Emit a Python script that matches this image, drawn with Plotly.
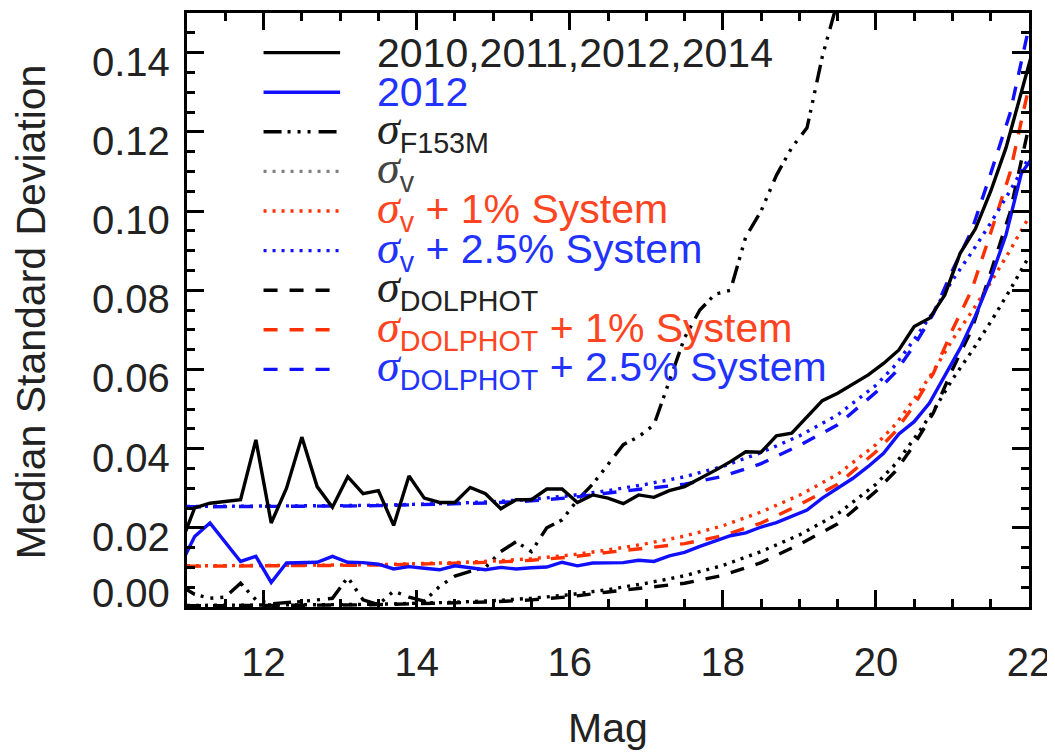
import plotly.graph_objects as go

# ---------------- data ----------------
MAG_OBS = [round(10.9 + 0.2 * i, 1) for i in range(57)]
ALL_YEARS = [0.0150, 0.0250, 0.0262, 0.0266, 0.0271, 0.0422,
             0.0212, 0.0300, 0.0429, 0.0304, 0.0252,
             0.0329, 0.0286, 0.0294, 0.0206, 0.0331,
             0.0275, 0.0264, 0.0264, 0.0302, 0.0286,
             0.0248, 0.0271, 0.0271, 0.0298, 0.0298,
             0.0264, 0.0283, 0.0275, 0.0261, 0.0283,
             0.0277, 0.0294, 0.0304, 0.0324, 0.0345,
             0.0367, 0.0392, 0.0391, 0.0432, 0.0439,
             0.0481, 0.0521, 0.0540, 0.0563, 0.0586,
             0.0615, 0.0649, 0.0708, 0.0729, 0.0788,
             0.0893, 0.0955, 0.1050, 0.1160, 0.1300,
             0.1440]
YEAR_2012 = [0.0100, 0.0178, 0.0212, 0.0165, 0.0115, 0.0128,
             0.0062, 0.0111, 0.0112, 0.0113, 0.0128,
             0.0113, 0.0112, 0.0108, 0.0096, 0.0102,
             0.0098, 0.0094, 0.0104, 0.0100, 0.0094,
             0.0100, 0.0096, 0.0099, 0.0101, 0.0113,
             0.0104, 0.0111, 0.0111, 0.0112, 0.0118,
             0.0115, 0.0129, 0.0138, 0.0153, 0.0166,
             0.0180, 0.0187, 0.0202, 0.0213, 0.0229,
             0.0245, 0.0275, 0.0300, 0.0325, 0.0355,
             0.0388, 0.0437, 0.0468, 0.0515, 0.0582,
             0.0653, 0.0735, 0.0830, 0.0940, 0.1095,
             0.1150]

MAG_F153M = [round(10.9 + 0.2 * i, 1) for i in range(44)]
SIG_F153M = [0.0055, 0.0032, 0.0022, 0.0025, 0.0060, 0.0018,
             0.0008, 0.0010, 0.0014, 0.0018, 0.0022,
             0.0075, 0.0018, 0.0006, 0.0040, 0.0025,
             0.0015, 0.0052, 0.0078, 0.0090, 0.0100,
             0.0140, 0.0165, 0.0140, 0.0200, 0.0220,
             0.0270, 0.0310, 0.0360, 0.0410, 0.0430,
             0.0460, 0.0570, 0.0680, 0.0750, 0.0790,
             0.0800, 0.0935, 0.1000, 0.1090, 0.1160,
             0.1210, 0.1390, 0.1530]

MAG_MODEL = [11.0, 11.5, 12.0, 12.5, 13.0, 13.5, 14.0, 14.5, 15.0, 15.5,
             16.0, 16.5, 17.0, 17.5, 18.0, 18.5, 19.0, 19.5, 20.0, 20.25,
             20.5, 20.75, 21.0, 21.25, 21.5, 21.75, 22.0]
SIG_V = [0.0004, 0.0004, 0.0004, 0.0005, 0.0006, 0.0007, 0.0009, 0.0012, 0.0016, 0.0022,
         0.0031, 0.0044, 0.0060, 0.0079, 0.0105, 0.0140, 0.0182, 0.0235, 0.0310, 0.0360,
         0.0425, 0.0495, 0.0575, 0.0645, 0.0720, 0.0800, 0.0885]
SIG_V_1PC = [0.0104, 0.0104, 0.0104, 0.0105, 0.0106, 0.0107, 0.0109, 0.0112, 0.0116, 0.0122,
             0.0131, 0.0144, 0.0160, 0.0179, 0.0205, 0.0240, 0.0282, 0.0335, 0.0410, 0.0460,
             0.0525, 0.0595, 0.0675, 0.0745, 0.0820, 0.0900, 0.0985]
SIG_V_25PC = [0.0254, 0.0254, 0.0254, 0.0255, 0.0256, 0.0257, 0.0259, 0.0262, 0.0266, 0.0272,
              0.0281, 0.0294, 0.0310, 0.0329, 0.0355, 0.0390, 0.0432, 0.0485, 0.0560, 0.0610,
              0.0675, 0.0745, 0.0825, 0.0895, 0.0970, 0.1050, 0.1135]
SIG_D = [0.0003, 0.0003, 0.0003, 0.0004, 0.0005, 0.0006, 0.0008, 0.0010, 0.0013, 0.0018,
         0.0026, 0.0038, 0.0048, 0.0060, 0.0080, 0.0112, 0.0158, 0.0210, 0.0292, 0.0342,
         0.0410, 0.0490, 0.0600, 0.0700, 0.0845, 0.0995, 0.1215]
SIG_D_1PC = [0.0103, 0.0103, 0.0103, 0.0104, 0.0105, 0.0106, 0.0108, 0.0110, 0.0113, 0.0118,
             0.0126, 0.0138, 0.0148, 0.0160, 0.0180, 0.0212, 0.0258, 0.0310, 0.0392, 0.0442,
             0.0510, 0.0590, 0.0700, 0.0800, 0.0945, 0.1095, 0.1315]
SIG_D_25PC = [0.0253, 0.0253, 0.0253, 0.0254, 0.0255, 0.0256, 0.0258, 0.0260, 0.0263, 0.0268,
              0.0276, 0.0288, 0.0298, 0.0310, 0.0330, 0.0362, 0.0408, 0.0460, 0.0542, 0.0592,
              0.0660, 0.0740, 0.0850, 0.0950, 0.1095, 0.1245, 0.1465]

X_TICKS = [12, 14, 16, 18, 20, 22]
Y_TICKS = [0.00, 0.02, 0.04, 0.06, 0.08, 0.10, 0.12, 0.14]
Y_TICK_TEXT = ["0.00", "0.02", "0.04", "0.06", "0.08", "0.10", "0.12", "0.14"]

# ---------------- styles ----------------
BLACK = "#000000"
BLUE = "#1010ff"
RED = "#ff3000"
TXT_BLUE = "#2233ff"
TXT_RED = "#ff4422"
TXT = "#222222"
FONT = "Liberation Sans, Arial, sans-serif"
DOT = "3px,6px"
DASH = "14px,12px"
DASH3DOT = "18px,6px,3px,7px,3px,7px,3px,8px"
LW = 3.4

SIG = "<i><span style='font-family:Liberation Serif;font-size:46px'>σ</span></i>"

legend_rows = [
    ("2010,2011,2012,2014", BLACK, "solid", TXT, False),
    ("2012", BLUE, "solid", TXT_BLUE, False),
    (SIG + "<sub>F153M</sub>", BLACK, DASH3DOT, TXT, True),
    (SIG + "<sub>v</sub>", "#808080", DOT, "#444444", True),
    (SIG + "<sub>v</sub> + 1% System", RED, DOT, TXT_RED, True),
    (SIG + "<sub>v</sub> + 2.5% System", BLUE, DOT, TXT_BLUE, True),
    (SIG + "<sub>DOLPHOT</sub>", BLACK, DASH, TXT, True),
    (SIG + "<sub>DOLPHOT</sub> + 1% System", RED, DASH, TXT_RED, True),
    (SIG + "<sub>DOLPHOT</sub> + 2.5% System", BLUE, DASH, TXT_BLUE, True),
]
LEGEND_Y = [0.14, 0.13, 0.12, 0.11, 0.10, 0.09, 0.08, 0.07, 0.06]

fig = go.Figure()

def add_line(x, y, color, dash, width=LW):
    fig.add_trace(go.Scatter(x=x, y=y, mode="lines", showlegend=False,
                             line=dict(color=color, width=width, dash=dash),
                             hoverinfo="skip"))

add_line(MAG_MODEL, SIG_D, BLACK, DASH)
add_line(MAG_MODEL, SIG_V, BLACK, DOT)
add_line(MAG_F153M, SIG_F153M, BLACK, DASH3DOT)
add_line(MAG_MODEL, SIG_D_1PC, RED, DASH)
add_line(MAG_MODEL, SIG_V_1PC, RED, DOT)
add_line(MAG_MODEL, SIG_D_25PC, BLUE, DASH)
add_line(MAG_MODEL, SIG_V_25PC, BLUE, DOT)
add_line(MAG_OBS, ALL_YEARS, BLACK, "solid")
add_line(MAG_OBS, YEAR_2012, BLUE, "solid")

annotations = []
for (text, lcolor, ldash, tcolor, has_sub), ly in zip(legend_rows, LEGEND_Y):
    add_line([12.0, 13.0], [ly, ly], lcolor, ldash)
    annotations.append(dict(x=13.5, y=ly, xref="x", yref="y", text=text,
                            showarrow=False, xanchor="left", yanchor="middle",
                            yshift=1 if has_sub else 0, xshift=-3,
                            font=dict(family=FONT, size=41, color=tcolor)))

# y tick labels (placed like the reference: slightly below each tick, 0.00 raised)
for val, lab in zip(Y_TICKS, Y_TICK_TEXT):
    annotations.append(dict(x=0, y=val, xref="paper", yref="y", text=lab,
                            showarrow=False, xanchor="right", yanchor="middle",
                            xshift=-15, yshift=14 if val == 0 else -9,
                            font=dict(family=FONT, size=40, color=TXT)))

# axis titles
annotations.append(dict(x=0.5, y=-0.203, xref="paper", yref="paper", text="Mag",
                        showarrow=False, xanchor="center", yanchor="middle",
                        font=dict(family=FONT, size=41, color=TXT)))
annotations.append(dict(x=-0.186, y=0.497, xref="paper", yref="paper",
                        text="Median Standard Deviation", textangle=-90,
                        showarrow=False, xanchor="center", yanchor="middle",
                        font=dict(family=FONT, size=41, color=TXT)))

axis_common = dict(showline=True, linewidth=3, linecolor="black", mirror="ticks",
                   ticks="inside", tickwidth=2.5, tickcolor="black",
                   showgrid=False, zeroline=False, automargin=False)

fig.update_layout(
    width=1047, height=747,
    margin=dict(l=179, r=26, t=5, b=148, autoexpand=False),
    paper_bgcolor="white", plot_bgcolor="white",
    showlegend=False,
    xaxis=dict(range=[11, 22], tickmode="array", tickvals=X_TICKS,
               ticktext=[str(v) for v in X_TICKS], ticklen=17,
               ticklabelstandoff=18,
               tickfont=dict(family=FONT, size=40, color=TXT),
               minor=dict(tickmode="linear", tick0=0, dtick=0.5, ticks="inside",
                          ticklen=8, tickwidth=2.5, tickcolor="black"),
               **axis_common),
    yaxis=dict(range=[0, 0.15], tickmode="array", tickvals=Y_TICKS,
               showticklabels=False, ticklen=17,
               minor=dict(tickmode="linear", tick0=0, dtick=0.005, ticks="inside",
                          ticklen=8, tickwidth=2.5, tickcolor="black"),
               **axis_common),
    annotations=annotations,
)

fig.write_html("out.html")
